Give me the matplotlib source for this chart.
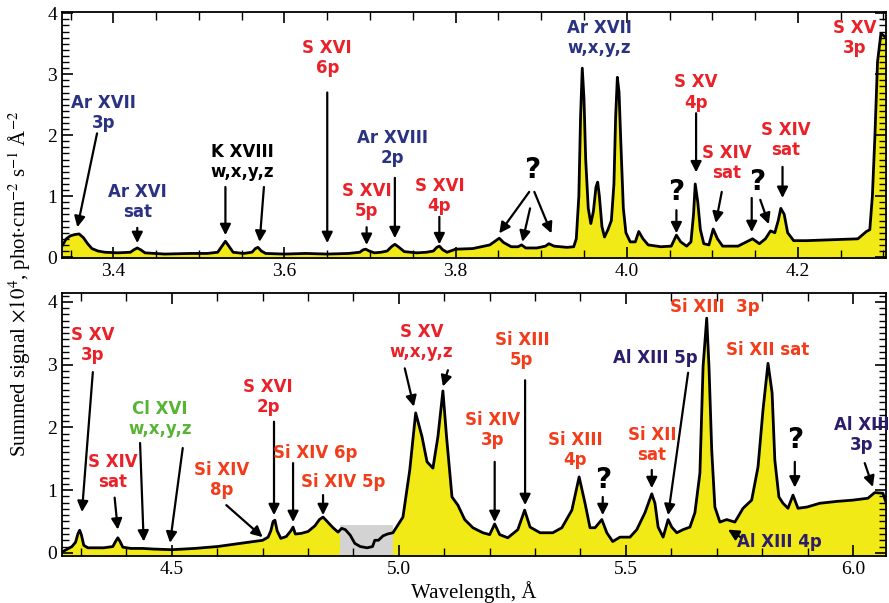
import numpy as np
import matplotlib
matplotlib.use('Agg')
import matplotlib.pyplot as plt
from matplotlib.patches import Rectangle
from matplotlib.ticker import MultipleLocator, FormatStrFormatter

plt.rcParams['font.family'] = 'serif'
plt.rcParams['font.serif'] = ['Liberation Serif', 'DejaVu Serif']
plt.rcParams['mathtext.fontset'] = 'stix'

# spectrum, upper panel (3.34 - 4.30 A)
top_wl = [3.340, 3.345, 3.350, 3.355, 3.360, 3.365, 3.370, 3.375, 3.382, 3.390,
          3.405, 3.420, 3.424, 3.428, 3.432, 3.437, 3.460, 3.490, 3.510, 3.522,
          3.527, 3.531, 3.535, 3.540, 3.552, 3.562, 3.566, 3.569, 3.573, 3.578,
          3.600, 3.625, 3.650, 3.675, 3.688, 3.692, 3.695, 3.699, 3.705, 3.713,
          3.720, 3.725, 3.729, 3.733, 3.740, 3.755, 3.766, 3.774, 3.778, 3.781,
          3.785, 3.790, 3.800, 3.820, 3.840, 3.847, 3.851, 3.856, 3.865, 3.873,
          3.877, 3.882, 3.895, 3.905, 3.909, 3.915, 3.930, 3.938, 3.941, 3.944,
          3.946, 3.948, 3.950, 3.952, 3.955, 3.958, 3.961, 3.964, 3.966, 3.968,
          3.971, 3.974, 3.978, 3.982, 3.985, 3.987, 3.989, 3.991, 3.993, 3.996,
          3.999, 4.004, 4.010, 4.014, 4.019, 4.025, 4.040, 4.052, 4.058, 4.063,
          4.070, 4.075, 4.078, 4.080, 4.083, 4.086, 4.090, 4.096, 4.101, 4.106,
          4.112, 4.130, 4.147, 4.155, 4.162, 4.168, 4.173, 4.177, 4.180, 4.184,
          4.188, 4.195, 4.210, 4.230, 4.250, 4.270, 4.280, 4.284, 4.287, 4.290,
          4.293, 4.297, 4.303]
top_sig = [0.18, 0.30, 0.35, 0.37, 0.38, 0.32, 0.22, 0.14, 0.10, 0.08,
           0.07, 0.08, 0.12, 0.15, 0.12, 0.07, 0.05, 0.06, 0.06, 0.08,
           0.18, 0.26, 0.18, 0.08, 0.06, 0.08, 0.14, 0.16, 0.10, 0.06,
           0.05, 0.06, 0.05, 0.06, 0.08, 0.12, 0.13, 0.10, 0.07, 0.08,
           0.10, 0.17, 0.21, 0.17, 0.09, 0.07, 0.08, 0.10, 0.16, 0.18,
           0.12, 0.08, 0.13, 0.14, 0.20, 0.27, 0.31, 0.24, 0.17, 0.17,
           0.20, 0.15, 0.15, 0.18, 0.22, 0.18, 0.16, 0.17, 0.30, 1.00,
           2.30, 3.10, 2.60, 1.60, 0.80, 0.55, 0.75, 1.15, 1.23, 1.00,
           0.50, 0.33, 0.45, 0.60, 1.20, 2.30, 2.95, 2.70, 1.90, 0.80,
           0.40, 0.25, 0.25, 0.42, 0.30, 0.20, 0.17, 0.18, 0.36, 0.25,
           0.18, 0.25, 0.70, 1.20, 0.90, 0.45, 0.22, 0.20, 0.46, 0.30,
           0.18, 0.18, 0.30, 0.22, 0.30, 0.43, 0.40, 0.60, 0.80, 0.70,
           0.40, 0.27, 0.27, 0.28, 0.29, 0.30, 0.42, 0.45, 1.00, 2.00,
           3.20, 3.67, 3.60]

# spectrum, lower panel (4.26 - 6.07 A)
bot_wl = [4.260, 4.270, 4.280, 4.288, 4.293, 4.297, 4.301, 4.306, 4.315, 4.350,
          4.370, 4.376, 4.381, 4.386, 4.392, 4.410, 4.436, 4.460, 4.500, 4.550,
          4.600, 4.650, 4.680, 4.700, 4.712, 4.718, 4.723, 4.727, 4.732, 4.740,
          4.752, 4.762, 4.767, 4.772, 4.785, 4.800, 4.815, 4.825, 4.833, 4.842,
          4.855, 4.866, 4.874, 4.882, 4.893, 4.903, 4.915, 4.930, 4.942, 4.947,
          4.955, 4.965, 4.975, 4.987, 5.009, 5.024, 5.037, 5.051, 5.062, 5.075,
          5.086, 5.097, 5.105, 5.117, 5.130, 5.145, 5.163, 5.185, 5.200, 5.211,
          5.222, 5.240, 5.262, 5.277, 5.289, 5.311, 5.339, 5.359, 5.381, 5.397,
          5.410, 5.421, 5.432, 5.447, 5.458, 5.471, 5.487, 5.509, 5.524, 5.542,
          5.557, 5.564, 5.571, 5.582, 5.593, 5.601, 5.612, 5.626, 5.641, 5.652,
          5.663, 5.670, 5.678, 5.683, 5.689, 5.696, 5.707, 5.722, 5.740, 5.758,
          5.777, 5.791, 5.802, 5.813, 5.822, 5.828, 5.837, 5.846, 5.857, 5.868,
          5.879, 5.899, 5.927, 5.965, 6.000, 6.033, 6.048, 6.066, 6.073]
bot_sig = [0.02, 0.06, 0.10, 0.17, 0.30, 0.36, 0.28, 0.12, 0.08, 0.08,
           0.10, 0.18, 0.24, 0.18, 0.09, 0.07, 0.07, 0.06, 0.05, 0.07,
           0.10, 0.15, 0.18, 0.20, 0.25, 0.35, 0.50, 0.52, 0.35, 0.23,
           0.26, 0.35, 0.41, 0.30, 0.31, 0.34, 0.43, 0.53, 0.57, 0.50,
           0.40, 0.33, 0.39, 0.37, 0.28, 0.15, 0.10, 0.08, 0.10, 0.20,
           0.20, 0.27, 0.30, 0.32, 0.57, 1.32, 2.23, 1.85, 1.45, 1.35,
           1.85, 2.58, 1.85, 0.89, 0.76, 0.53, 0.40, 0.32, 0.29, 0.46,
           0.29, 0.24, 0.37, 0.68, 0.41, 0.32, 0.32, 0.40, 0.68, 1.21,
           0.79, 0.40, 0.40, 0.53, 0.32, 0.18, 0.25, 0.25, 0.37, 0.64,
           0.94, 0.79, 0.41, 0.25, 0.53, 0.41, 0.32, 0.37, 0.41, 0.64,
           1.27, 2.97, 3.74, 2.97, 1.64, 0.73, 0.49, 0.53, 0.49, 0.71,
           0.84, 1.37, 2.28, 3.02, 2.55, 1.48, 0.89, 0.79, 0.71, 0.92,
           0.71, 0.73, 0.79, 0.82, 0.84, 0.87, 0.96, 0.95, 0.80]

RED = '#ea2128'
ORG = '#f23c1a'
NAVY = '#2a3282'
PURP = '#2c1c6c'
GRN = '#58b435'

# line labels: text, colour, x, y (data units, text centre)
top_labels = [('Ar XVII\n3p', NAVY, 3.389, 2.36),
              ('Ar XVI\nsat', NAVY, 3.428, 0.90),
              ('K XVIII\nw,x,y,z', 'k', 3.551, 1.56),
              ('S XVI\n6p', RED, 3.650, 3.26),
              ('S XVI\n5p', RED, 3.696, 0.92),
              ('Ar XVIII\n2p', NAVY, 3.726, 1.79),
              ('S XVI\n4p', RED, 3.781, 1.00),
              ('Ar XVII\nw,x,y,z', NAVY, 3.968, 3.60),
              ('S XV\n4p', RED, 4.081, 2.70),
              ('S XIV\nsat', RED, 4.117, 1.54),
              ('S XIV\nsat', RED, 4.186, 1.92),
              ('S XV\n3p', RED, 4.266, 3.59)]
top_quest = [(3.889, 1.43), (4.058, 1.07), (4.152, 1.23)]
top_arrows = [(3.381, 2.03, 3.358, 0.49), (3.428, 0.48, 3.428, 0.23),
              (3.531, 1.15, 3.531, 0.36), (3.576, 1.15, 3.571, 0.25),
              (3.650, 2.70, 3.650, 0.23), (3.696, 0.49, 3.696, 0.20),
              (3.729, 1.30, 3.729, 0.31), (3.781, 0.66, 3.781, 0.21),
              (3.886, 1.07, 3.851, 0.39), (3.887, 0.80, 3.878, 0.25),
              (3.892, 1.07, 3.912, 0.39), (4.058, 0.77, 4.058, 0.39),
              (4.081, 2.36, 4.081, 1.39), (4.111, 1.07, 4.104, 0.56),
              (4.146, 0.97, 4.146, 0.41), (4.156, 0.94, 4.166, 0.54),
              (4.182, 1.48, 4.182, 0.97)]

bot_labels = [('S XV\n3p', RED, 4.326, 3.31),
              ('S XIV\nsat', RED, 4.370, 1.29),
              ('Cl XVI\nw,x,y,z', GRN, 4.474, 2.13),
              ('Si XIV\n8p', ORG, 4.610, 1.16),
              ('S XVI\n2p', RED, 4.712, 2.48),
              ('Si XIV 6p', ORG, 4.815, 1.59),
              ('Si XIV 5p', ORG, 4.877, 1.13),
              ('S XV\nw,x,y,z', RED, 5.050, 3.36),
              ('Si XIV\n3p', ORG, 5.207, 1.96),
              ('Si XIII\n5p', ORG, 5.271, 3.23),
              ('Si XIII\n4p', ORG, 5.388, 1.64),
              ('Si XII\nsat', ORG, 5.557, 1.72),
              ('Al XIII 5p', PURP, 5.564, 3.10),
              ('Si XIII  3p', ORG, 5.696, 3.92),
              ('Si XII sat', ORG, 5.813, 3.23),
              ('Al XIII\n3p', PURP, 6.020, 1.88),
              ('Al XIII 4p', PURP, 5.839, 0.18)]
bot_quest = [(5.449, 1.16), (5.872, 1.80)]
bot_arrows = [(4.326, 2.88, 4.302, 0.65), (4.374, 0.88, 4.381, 0.37),
              (4.430, 1.75, 4.438, 0.18), (4.524, 1.67, 4.496, 0.16),
              (4.620, 0.76, 4.700, 0.25), (4.725, 2.09, 4.725, 0.60),
              (4.767, 1.43, 4.767, 0.49), (4.833, 0.92, 4.833, 0.60),
              (5.013, 2.94, 5.033, 2.33), (5.108, 2.91, 5.097, 2.65),
              (5.211, 1.45, 5.211, 0.49), (5.278, 2.75, 5.278, 0.76),
              (5.449, 0.89, 5.449, 0.60), (5.557, 1.32, 5.557, 1.03),
              (5.637, 2.87, 5.593, 0.60), (5.872, 1.45, 5.872, 1.04),
              (6.026, 1.43, 6.044, 1.05), (5.755, 0.24, 5.725, 0.37)]


def draw_panel(ax, wl, sig, labels, quest, arrows, xlim, ylim, xmaj, xmin):
    ax.fill_between(wl, sig, ylim[0], color='#f2ea16', lw=0)
    ax.plot(wl, sig, color='k', lw=2, zorder=3)
    ax.set_xlim(xlim)
    ax.set_ylim(ylim)
    ax.xaxis.set_major_locator(MultipleLocator(xmaj))
    ax.xaxis.set_minor_locator(MultipleLocator(xmin))
    ax.xaxis.set_major_formatter(FormatStrFormatter('%.1f'))
    ax.yaxis.set_major_locator(MultipleLocator(1))
    ax.yaxis.set_minor_locator(MultipleLocator(0.1))
    ax.tick_params(which='both', direction='in', top=True, right=True, labelsize=14)
    ax.tick_params(which='major', length=8, width=1.2)
    ax.tick_params(which='minor', length=5, width=1)
    ax.tick_params(axis='x', which='minor', length=6)
    for s in ax.spines.values():
        s.set_linewidth(1.3)
    for x0, y0, x1, y1 in arrows:
        ax.annotate('', xy=(x1, y1), xytext=(x0, y0),
                    arrowprops=dict(arrowstyle='-|>', color='k', lw=1.6,
                                    mutation_scale=16, shrinkA=0, shrinkB=0))
    for txt, col, x, y in labels:
        ax.text(x, y, txt, color=col, ha='center', va='center', fontsize=12,
                fontweight='bold', family='DejaVu Sans', linespacing=1.15)
    for x, y in quest:
        ax.text(x, y, '?', color='k', ha='center', va='center', fontsize=20,
                fontweight='bold', family='DejaVu Sans')


fig = plt.figure(figsize=(8.89, 6.03), dpi=100)
ax1 = fig.add_axes([0.0697, 0.572, 0.927, 0.408])
ax2 = fig.add_axes([0.0697, 0.078, 0.927, 0.436])

draw_panel(ax1, top_wl, top_sig, top_labels, top_quest, top_arrows,
           (3.34, 4.303), (-0.016, 4.02), 0.2, 0.05)
draw_panel(ax2, bot_wl, bot_sig, bot_labels, bot_quest, bot_arrows,
           (4.258, 6.073), (-0.05, 4.14), 0.5, 0.1)

# detector gap in lower panel
y0 = ax2.get_ylim()[0]
ax2.add_patch(Rectangle((4.87, y0), 0.117, 0.45 - y0,
                        facecolor='#d3d3d3', edgecolor='none', zorder=1.5))

ax2.set_xlabel('Wavelength, Å', fontsize=15, labelpad=2)
fig.text(0.022, 0.53, r'Summed signal $\times10^4$, phot$\cdot$cm$^{-2}$ s$^{-1}$ Å$^{-2}$',
         rotation=90, ha='center', va='center', fontsize=15)

fig.savefig('out.png', dpi=100)
